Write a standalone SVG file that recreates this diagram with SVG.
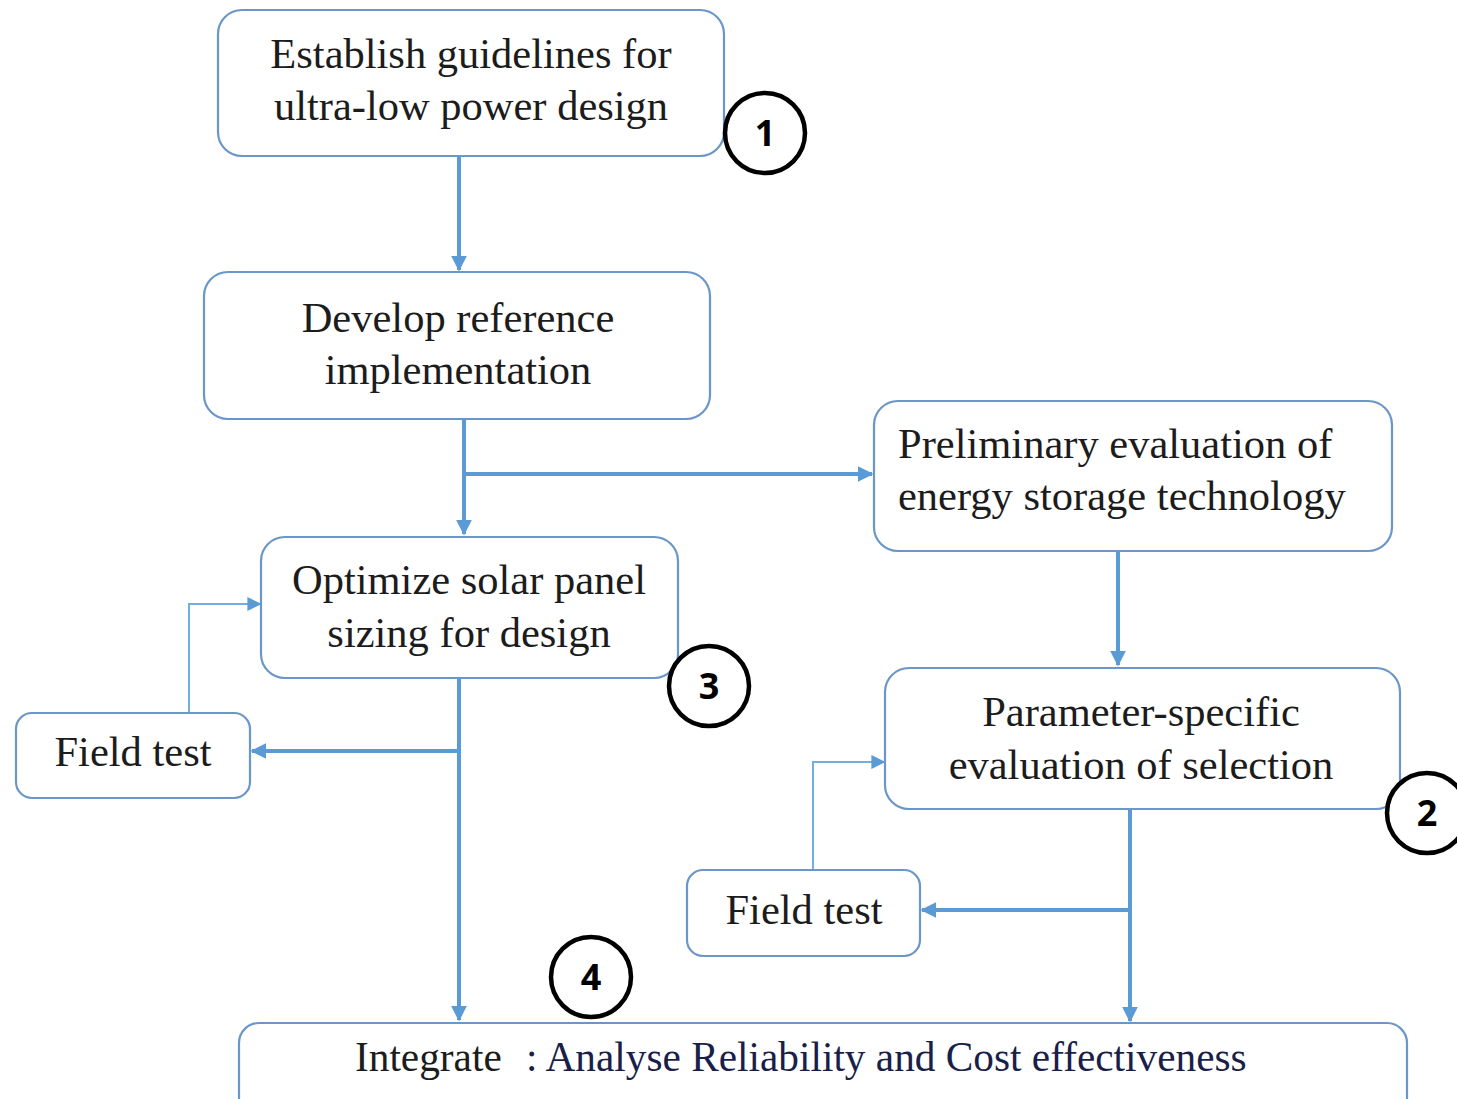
<svg xmlns="http://www.w3.org/2000/svg" width="1457" height="1099" viewBox="0 0 1457 1099">
<style>
.box{fill:#fff;stroke:#6a96c8;stroke-width:2.2}
.t{font-family:"Liberation Serif","Times New Roman",serif;font-size:42.5px;fill:#1c1c1c;text-anchor:middle}
.tl{font-family:"Liberation Serif","Times New Roman",serif;font-size:42.5px;fill:#1c1c1c}
.thick{fill:none;stroke:#5b9bd5;stroke-width:4}
.thin{fill:none;stroke:#74aee0;stroke-width:2}
.circ{fill:#fff;stroke:#000;stroke-width:4.5}
.num{font-family:"Open Sans","Liberation Sans",sans-serif;font-weight:bold;font-size:36px;fill:#000;text-anchor:middle}
</style>
<defs>
<marker id="ah" viewBox="0 0 10 10" refX="9" refY="5" markerWidth="4" markerHeight="4" orient="auto" markerUnits="strokeWidth"><path d="M0,0 L10,5 L0,10 z" fill="#5b9bd5"/></marker>
<marker id="ahs" viewBox="0 0 10 10" refX="9" refY="5" markerWidth="7" markerHeight="7" orient="auto" markerUnits="strokeWidth"><path d="M0,0 L10,5 L0,10 z" fill="#5b9bd5"/></marker>
</defs>
<rect width="1457" height="1099" fill="#fff"/>
<g id="connectors">
<path class="thick" d="M459,157 V270" marker-end="url(#ah)"/>
<path class="thick" d="M464,420 V534" marker-end="url(#ah)"/>
<path class="thick" d="M464,474 H872" marker-end="url(#ah)"/>
<path class="thick" d="M1118,552 V665" marker-end="url(#ah)"/>
<path class="thick" d="M459,679 V1020" marker-end="url(#ah)"/>
<path class="thick" d="M459,751 H252" marker-end="url(#ah)"/>
<path class="thin" d="M189,713 V604 H260" marker-end="url(#ahs)"/>
<path class="thick" d="M1130,810 V1021" marker-end="url(#ah)"/>
<path class="thick" d="M1130,910 H922" marker-end="url(#ah)"/>
<path class="thin" d="M813,870 V762 H884" marker-end="url(#ahs)"/>
</g>
<g id="n1">
<rect class="box" x="218" y="10" width="506" height="146" rx="24"/>
<text class="t" x="471" y="68">Establish guidelines for</text>
<text class="t" x="471" y="120">ultra-low power design</text>
</g>
<g id="c1"><circle class="circ" cx="765" cy="133" r="40"/><text class="num" x="765" y="146">1</text></g>
<g id="n2">
<rect class="box" x="204" y="272" width="506" height="147" rx="24"/>
<text class="t" x="458" y="332">Develop reference</text>
<text class="t" x="458" y="384">implementation</text>
</g>
<g id="n3">
<rect class="box" x="874" y="401" width="518" height="150" rx="24"/>
<text class="tl" x="898" y="458">Preliminary evaluation of</text>
<text class="tl" x="898" y="510">energy storage technology</text>
</g>
<g id="n4">
<rect class="box" x="261" y="537" width="417" height="141" rx="24"/>
<text class="t" x="469" y="594">Optimize solar panel</text>
<text class="t" x="469" y="647">sizing for design</text>
</g>
<g id="c3"><circle class="circ" cx="709" cy="686" r="40"/><text class="num" x="709" y="699">3</text></g>
<g id="n5">
<rect class="box" x="885" y="668" width="515" height="141" rx="24"/>
<text class="t" x="1141" y="726">Parameter-specific</text>
<text class="t" x="1141" y="779">evaluation of selection</text>
</g>
<g id="c2"><circle class="circ" cx="1427" cy="813" r="40"/><text class="num" x="1427" y="826">2</text></g>
<g id="n6">
<rect class="box" x="16" y="713" width="234" height="85" rx="16"/>
<text class="t" x="133" y="766">Field test</text>
</g>
<g id="n7">
<rect class="box" x="687" y="870" width="233" height="86" rx="16"/>
<text class="t" x="804" y="924">Field test</text>
</g>
<g id="c4"><circle class="circ" cx="591" cy="977" r="40"/><text class="num" x="591" y="990">4</text></g>
<g id="n8">
<rect class="box" x="239" y="1023" width="1168" height="100" rx="20"/>
<text class="tl" y="1071" style="font-size:41.3px"><tspan x="355">Integrate</tspan><tspan x="526" fill="#1a1f4a">: Analyse Reliability and Cost effectiveness</tspan></text>
</g>
</svg>
